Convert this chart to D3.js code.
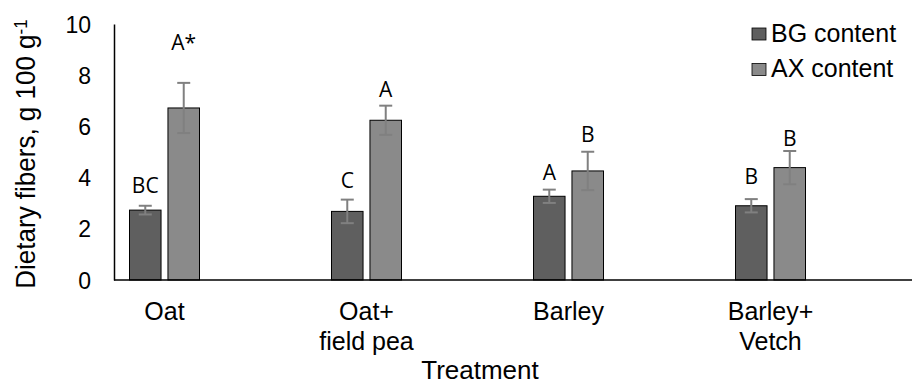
<!DOCTYPE html>
<html>
<head>
<meta charset="utf-8">
<script src="https://cdn.jsdelivr.net/npm/d3@7"></script>
<style>
  body { margin: 0; background: #fff; }
  text { font-family: Arial, "Liberation Sans", sans-serif; fill: #000; }
  .letter { font-family: "Open Sans", sans-serif; }
</style>
</head>
<body>
<div id="chart"></div>
<script>
// treatments and series
var categories = ["Oat", "Oat+|field pea", "Barley", "Barley+|Vetch"];
var seriesNames = ["BG content", "AX content"];
var seriesColors = ["#5f5f5f", "#8a8a8a"];

// means and standard errors
var bgValues = [2.73, 2.68, 3.27, 2.90];
var bgErrors = [0.17, 0.46, 0.26, 0.26];
var axValues = [6.72, 6.24, 4.26, 4.39];
var axErrors = [0.98, 0.57, 0.75, 0.65];

// significance letters and the level (in g 100 g-1) they sit at
var bgLetters = ["BC", "C", "A", "B"];
var axLetters = ["A*", "A", "B", "B"];
var bgLetterAt = [3.41, 3.58, 3.91, 3.74];
var axLetterAt = [8.98, 7.16, 5.40, 5.25];

var yTicks = [0, 2, 4, 6, 8, 10];

var width = 912, height = 385;

var svg = d3.select("#chart")
    .append("svg")
    .attr("width", width)
    .attr("height", height);

var yScale = d3.scaleLinear()
    .domain([0, 10])
    .range([280, 24]);

var xScale = d3.scaleBand()
    .domain(categories)
    .range([63.5, 871.5])
    .padding(0);

var xInner = d3.scaleBand()
    .domain(seriesNames)
    .range([-35, 35])
    .paddingInner(0.18);

var rows = categories.map(function (c, i) {
    return [
        { cat: c, s: seriesNames[0], v: bgValues[i], e: bgErrors[i], lab: bgLetters[i], at: bgLetterAt[i], col: seriesColors[0] },
        { cat: c, s: seriesNames[1], v: axValues[i], e: axErrors[i], lab: axLetters[i], at: axLetterAt[i], col: seriesColors[1] }
    ];
});
var flat = d3.merge(rows);

var cx = d => xScale(d.cat) + xScale.bandwidth() / 2;
var barX = d => cx(d) + xInner(d.s);
var barMid = d => barX(d) + xInner.bandwidth() / 2;

// bars
svg.selectAll("rect.bar").data(flat)
    .enter().append("rect")
    .attr("class", "bar")
    .attr("x", barX)
    .attr("y", d => yScale(d.v))
    .attr("width", xInner.bandwidth())
    .attr("height", d => yScale(0) - yScale(d.v))
    .attr("fill", d => d.col)
    .attr("stroke", "#000")
    .attr("stroke-width", 1);

// error bars
var eb = svg.selectAll("g.err").data(flat)
    .enter().append("g")
    .attr("class", "err")
    .attr("stroke", "#808080")
    .attr("stroke-width", 2);
eb.append("line")
    .attr("x1", barMid).attr("x2", barMid)
    .attr("y1", d => yScale(d.v + d.e))
    .attr("y2", d => yScale(d.v - d.e));
eb.append("line")
    .attr("x1", d => barMid(d) - 6.5).attr("x2", d => barMid(d) + 6.5)
    .attr("y1", d => yScale(d.v + d.e))
    .attr("y2", d => yScale(d.v + d.e));
eb.append("line")
    .attr("x1", d => barMid(d) - 6.5).attr("x2", d => barMid(d) + 6.5)
    .attr("y1", d => yScale(d.v - d.e))
    .attr("y2", d => yScale(d.v - d.e));

// letters
svg.selectAll("text.letter").data(flat)
    .enter().append("text")
    .attr("class", "letter")
    .attr("x", barMid)
    .attr("y", d => yScale(d.at))
    .attr("text-anchor", "middle")
    .style("font-size", "21px")
    .text(d => d.lab);

// y axis
var yAxis = d3.axisLeft(yScale)
    .tickValues(yTicks)
    .tickSize(0)
    .tickSizeOuter(0)
    .tickPadding(23);

var yAxisG = svg.append("g")
    .attr("transform", "translate(114,0)")
    .call(yAxis);
yAxisG.select(".domain").attr("stroke", "#000").attr("stroke-width", 1.5);
yAxisG.selectAll(".tick text")
    .style("font-family", "Arial, 'Liberation Sans', sans-serif")
    .style("font-size", "23px")
    .attr("fill", "#000")
    .attr("dy", "0.35em");

// x axis line
svg.append("line")
    .attr("x1", 114).attr("x2", width)
    .attr("y1", yScale(0)).attr("y2", yScale(0))
    .attr("stroke", "#000")
    .attr("stroke-width", 1.5);

// category labels
var catLabels = svg.selectAll("text.cat").data(categories)
    .enter().append("text")
    .attr("class", "cat")
    .attr("text-anchor", "middle")
    .style("font-size", "25px");
catLabels.each(function (c) {
    var t = d3.select(this);
    var x = xScale(c) + xScale.bandwidth() / 2;
    c.split("|").forEach(function (line, i) {
        t.append("tspan")
            .attr("x", x)
            .attr("y", 320 + i * 30)
            .text(line);
    });
});

// axis titles
svg.append("text")
    .attr("x", 480)
    .attr("y", 379)
    .attr("text-anchor", "middle")
    .style("font-size", "26px")
    .text("Treatment");

var yTitle = svg.append("text")
    .attr("transform", "translate(35,154) scale(1.08,1) rotate(-90)")
    .attr("text-anchor", "middle")
    .style("font-size", "26px");
yTitle.append("tspan").text("Dietary fibers, g 100 g");
yTitle.append("tspan")
    .attr("dy", "-0.45em")
    .style("font-size", "17px")
    .text("-1");

// legend
var legend = svg.selectAll("g.legend").data(seriesNames)
    .enter().append("g")
    .attr("class", "legend")
    .attr("transform", (d, i) => "translate(752," + (28 + i * 35.5) + ")");
legend.append("rect")
    .attr("width", 14)
    .attr("height", 12)
    .attr("fill", (d, i) => seriesColors[i])
    .attr("stroke", "#000")
    .attr("stroke-width", 0.8);
legend.append("text")
    .attr("x", 19)
    .attr("y", 13.7)
    .style("font-size", "25px")
    .text(d => d);
</script>
</body>
</html>
